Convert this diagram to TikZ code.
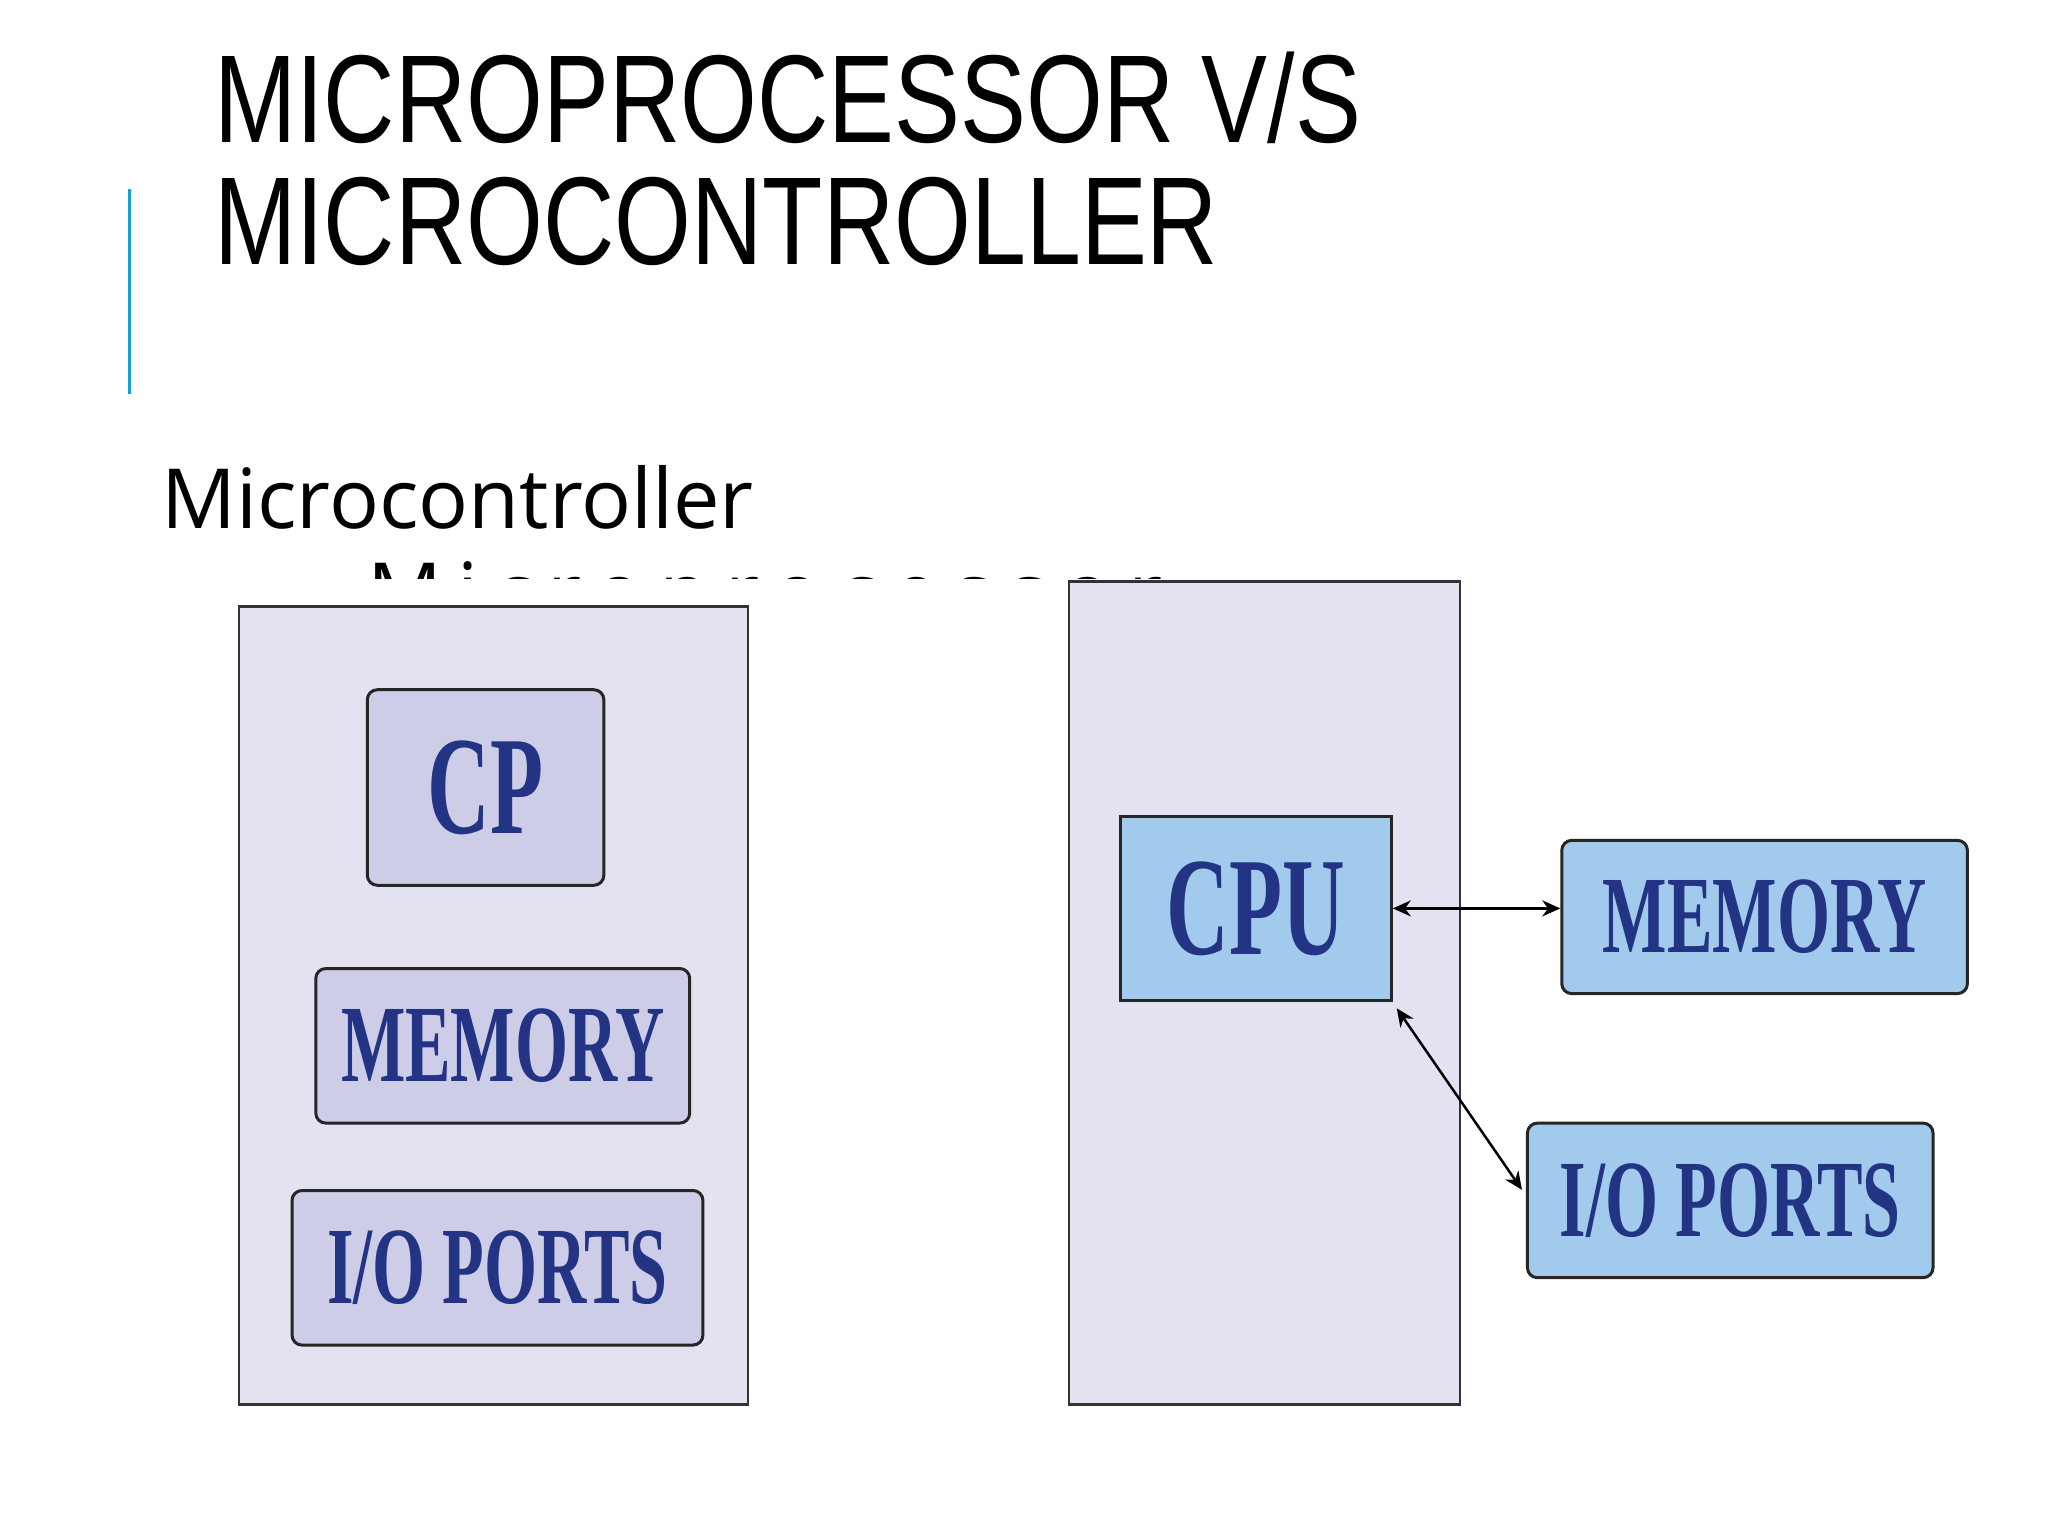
\documentclass[tikz,border=0pt]{standalone}
\usepackage{fontspec}
\setmainfont{Liberation Sans}
\newfontfamily\titlef[FakeStretch=0.79]{Liberation Sans}
\newfontfamily\subf{Open Sans}
\newfontfamily\boxf[FakeStretch=0.62]{Liberation Serif}
\usetikzlibrary{arrows.meta}
\definecolor{outerfill}{RGB}{226,226,240}
\definecolor{lilac}{RGB}{205,205,232}
\definecolor{skyb}{RGB}{162,202,236}
\definecolor{ink}{RGB}{35,52,132}
\definecolor{accent}{RGB}{20,160,215}
\begin{document}
\begin{tikzpicture}[x=1.3213pt,y=-1.3213pt,
  outer/.style={draw=black!80,line width=2.5pt,fill=outerfill},
  blk/.style={draw=black!85,line width=3pt,rounded corners=10pt,inner sep=0pt,text=ink,font=\boxf\bfseries\fontsize{110}{110}\selectfont},
  arr/.style={line width=2.5pt,{Stealth[length=18pt,width=16pt]}-{Stealth[length=18pt,width=16pt]}}]
\useasboundingbox (0,0) rectangle (1550,1162.5);
\fill[white] (0,0) rectangle (1550,1162.5);
\draw[accent,line width=3pt] (98,143) -- (98,298);
\node[anchor=base west,inner sep=0pt,font=\titlef\fontsize{125}{125}\selectfont] (t1) at (162,108) {MICROPROCESSOR V/S};
\node[anchor=base west,inner sep=0pt,font=\titlef\fontsize{125}{125}\selectfont] (t2) at (162,200) {MICROCONTROLLER};
\node[anchor=base west,inner sep=0pt,font=\subf\fontsize{83}{83}\selectfont] (s1) at (122,400) {Microcontroller};
\begin{scope}
\clip (0,380) rectangle (1550,438);
\node[anchor=base west,inner sep=0pt,font=\subf\fontsize{83}{83}\selectfont\addfontfeatures{LetterSpace=18}] (s2) at (278,471) {Microprocessor};
\end{scope}
\draw[outer] (181,459) rectangle (566,1063);
\draw[outer] (809,440) rectangle (1105,1063);
\node[blk,fill=lilac,minimum width=179*1.3213pt,minimum height=148*1.3213pt,font=\boxf\bfseries\fontsize{140}{140}\selectfont] (cp) at (367.5,596) {CP};
\node[blk,fill=lilac,minimum width=283*1.3213pt,minimum height=117*1.3213pt] (mem1) at (380.5,791.5) {MEMORY};
\node[blk,fill=lilac,minimum width=311*1.3213pt,minimum height=117*1.3213pt] (io1) at (376.5,959.5) {I/O PORTS};
\node[blk,fill=skyb,rounded corners=0pt,minimum width=205*1.3213pt,minimum height=139*1.3213pt,font=\boxf\bfseries\fontsize{140}{140}\selectfont] (cpu) at (950.5,687.5) {CPU};
\node[blk,fill=skyb,minimum width=307*1.3213pt,minimum height=116*1.3213pt] (mem2) at (1335.5,694) {MEMORY};
\node[blk,fill=skyb,minimum width=307*1.3213pt,minimum height=117*1.3213pt] (io2) at (1309.5,908.5) {I/O PORTS};
\draw[arr] (cpu.east) -- (mem2.west |- cpu.east);
\draw[arr] ([shift={(3,5)}]cpu.south east) -- ([shift={(-3,-8)}]io2.west);
\end{tikzpicture}
\end{document}
